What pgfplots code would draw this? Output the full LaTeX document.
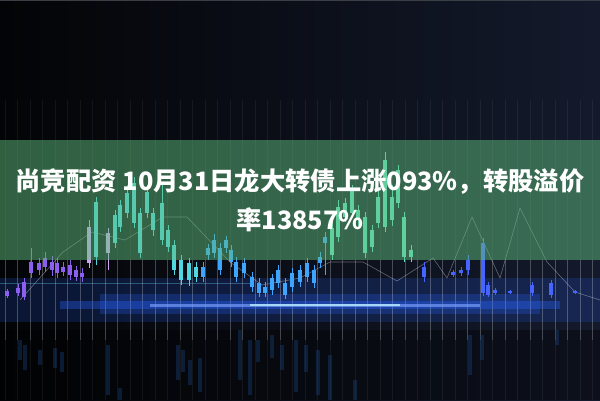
\documentclass[border=0pt]{standalone}
\usepackage{fontspec}
\usepackage{pgfplots}
\usepackage{pgfplotstable}
\pgfplotsset{compat=1.18}
\newfontfamily\cjk{Noto Sans CJK SC}

\definecolor{bgL}{RGB}{3,4,6}
\definecolor{bgR}{RGB}{20,26,44}
\definecolor{band}{RGB}{95,188,125}
\definecolor{cP}{RGB}{140,95,240}
\definecolor{cL}{RGB}{205,165,240}
\definecolor{cT}{RGB}{80,215,225}
\definecolor{cB}{RGB}{60,165,255}
\definecolor{cM}{RGB}{95,230,190}
\definecolor{cD}{RGB}{70,100,255}
\definecolor{refl}{RGB}{25,65,120}
\definecolor{glow}{RGB}{40,100,255}

% x, body top, body bottom, wick top, wick bottom (pixel rows)
\pgfplotstableread{
x bt bb wt wb
7 291 296 289 298
18 288 293 284 296
24 282 297 278 300
31 262 273 248 278
39 263 270 258 275
45 258 267 252 272
52 262 270 256 276
57 263 273 258 278
63 267 272 262 276
70 265 275 260 280
76 270 277 266 281
82 273 277 268 282
}\candP
\pgfplotstableread{
x bt bb wt wb
89 227 263 220 268
108 233 253 228 270
}\candL
\pgfplotstableread{
x bt bb wt wb
96 202 257 197 265
115 215 243 210 248
120 205 227 200 232
127 193 213 185 218
134 183 223 177 228
140 213 253 208 258
147 192 213 185 218
153 213 230 208 236
162 203 240 182 245
168 230 247 225 252
174 245 270 240 275
181 260 280 255 285
189 263 280 258 286
196 267 277 262 282
}\candT
\pgfplotstableread{
x bt bb wt wb
203 267 277 262 282
208 248 255 244 260
214 240 253 234 258
220 248 270 243 275
226 240 248 236 253
231 250 262 245 267
236 262 277 257 282
244 263 273 258 278
252 277 287 272 292
259 283 293 278 297
265 287 293 282 297
272 278 290 274 295
278 270 283 265 288
285 283 295 278 299
292 273 287 268 292
300 270 282 265 287
307 263 277 258 282
314 270 283 265 288
320 257 263 252 268
325 237 243 232 275
}\candB
\pgfplotstableread{
x bt bb wt wb
332 228 255 222 260
338 207 237 200 242
345 203 217 198 222
352 190 213 185 218
358 210 220 205 226
365 217 253 212 258
372 230 247 225 252
378 197 223 190 228
385 160 227 152 232
392 197 220 185 226
398 170 203 165 208
404 217 257 212 262
411 250 257 245 262
}\candM
\pgfplotstableread{
x bt bb wt wb
424 267 277 262 282
453 272 275 270 277
461 270 273 267 276
468 260 270 255 275
483 243 293 238 296
488 285 295 282 297
495 290 293 288 295
510 291 293 290 294
532 285 293 282 296
551 283 295 280 298
575 291 293 290 294
}\candD
\pgfplotstableread{
x bt bb
20 340 360
25 345 370
40 350 365
55 348 368
62 352 372
108 345 395
120 388 400
178 345 380
183 350 372
190 360 385
200 358 392
240 330 380
250 340 395
258 340 362
272 335 358
282 345 370
296 340 392
306 345 372
318 350 395
330 355 400
355 380 400
470 335 375
482 335 360
557 330 345
}\reflect
% vertical grid lines: x, top row, bottom row
\pgfplotstableread{
x bt bb
5 100 400
17.5 100 400
30 100 400
42.5 100 400
55 100 400
67.5 100 400
80 100 400
92.5 100 400
105 100 400
117.5 100 400
130 100 400
142.5 100 400
155 100 400
167.5 100 400
180 100 400
192.5 100 400
205 100 400
217.5 100 400
230 100 400
242.5 100 400
255 100 400
267.5 100 400
280 100 400
292.5 100 400
305 100 400
317.5 100 400
330 100 400
342.5 100 400
355 100 400
367.5 100 400
380 100 400
392.5 100 400
405 100 400
417.5 100 400
430 100 400
442.5 100 400
455 100 400
467.5 100 400
480 100 400
492.5 100 400
505 100 400
517.5 100 400
530 100 400
542.5 100 400
555 100 400
567.5 100 400
580 100 400
592.5 100 400
}\gridx

\pgfplotsset{
  candle/.style 2 args={draw=none, mark=none, forget plot,
    error bars/.cd, y dir=both, y explicit, error mark=none,
    error bar style={line width=#2, draw=#1, solid}},
  table/body/.style={x=x, y expr=(\thisrow{bt}+\thisrow{bb})/2, y error expr=(\thisrow{bb}-\thisrow{bt})/2},
  table/wick/.style={x=x, y expr=(\thisrow{wt}+\thisrow{wb})/2, y error expr=(\thisrow{wb}-\thisrow{wt})/2},
}

\begin{document}
\begin{tikzpicture}
\begin{axis}[
  scale only axis, width=600bp, height=400bp,
  xmin=0, xmax=600, ymin=0, ymax=400, y dir=reverse,
  hide axis, clip=true]

% background
\addplot[draw=none, left color=bgL, right color=bgR, forget plot]
  coordinates {(0,0) (600,0) (600,400) (0,400)} -- cycle;
\addplot[draw=none, fill=black, fill opacity=0.35, forget plot]
  coordinates {(0,330) (600,330) (600,400) (0,400)} -- cycle;
\addplot[draw={rgb,255:red,60;green,62;blue,70}, line width=1.5bp, forget plot]
  coordinates {(0,0.5) (600,0.5)};

% glow wash
\addplot[glow, opacity=0.18, line width=44bp, forget plot] coordinates {(0,300) (600,300)};
\addplot[glow, opacity=0.25, line width=20bp, forget plot] coordinates {(100,304) (540,304)};

% vertical grid
\addplot[candle={white, draw opacity=0.06}{0.6bp}] table[body] {\gridx};
\addplot[candle={white, draw opacity=0.2}{0.6bp}]
  table[x=x, y expr=300, y error expr=40] {\gridx};

% trend lines
\addplot[white, opacity=0.35, line width=0.6bp, forget plot] coordinates {
(20,300) (63,252) (92,232) (125,240) (163,217) (187,217) (230,262) (262,285)
(300,278) (330,262) (363,262) (397,281) (433,258) (447,278) (472,217) (500,278)
(520,208) (547,262) (575,292) (600,300)};
\addplot[cyan!60, opacity=0.35, line width=0.6bp, forget plot]
  coordinates {(0,283) (250,283)};

% reflections
\addplot[candle={refl, draw opacity=0.4}{4bp}] table[body] {\reflect};

% glow core
\addplot[glow, opacity=0.35, line width=8bp, forget plot] coordinates {(60,305) (560,305)};
\addplot[glow!60!white, opacity=0.65, line width=3bp, forget plot] coordinates {(150,305) (480,305)};
\addplot[cyan!30!white, opacity=0.85, line width=1.2bp, forget plot] coordinates {(250,305) (400,305)};

% candles: wicks then bodies
\addplot[candle={cP}{1bp}] table[wick] {\candP};
\addplot[candle={cP}{4.5bp}] table[body] {\candP};
\addplot[candle={cL}{1bp}] table[wick] {\candL};
\addplot[candle={cL}{4.5bp}] table[body] {\candL};
\addplot[candle={cT}{1bp}] table[wick] {\candT};
\addplot[candle={cT}{4.5bp}] table[body] {\candT};
\addplot[candle={cB}{1bp}] table[wick] {\candB};
\addplot[candle={cB}{4.5bp}] table[body] {\candB};
\addplot[candle={cM}{1bp}] table[wick] {\candM};
\addplot[candle={cM}{4.5bp}] table[body] {\candM};
\addplot[candle={cD}{1bp}] table[wick] {\candD};
\addplot[candle={cD}{4.5bp}] table[body] {\candD};

% title band
\addplot[draw=none, fill=band, fill opacity=0.5, forget plot]
  coordinates {(0,140) (600,140) (600,260) (0,260)} -- cycle;

\node[white, font=\cjk\bfseries\fontsize{25.3bp}{30bp}\selectfont, inner sep=0pt]
  at (axis cs:300,182) {尚竞配资 10月31日龙大转债上涨093\%，转股溢价};
\node[white, font=\cjk\bfseries\fontsize{25.3bp}{30bp}\selectfont, inner sep=0pt]
  at (axis cs:300,220) {率13857\%};
\end{axis}
\pgfresetboundingbox
\path (current axis.south west) rectangle (current axis.north east);
\end{tikzpicture}
\end{document}
